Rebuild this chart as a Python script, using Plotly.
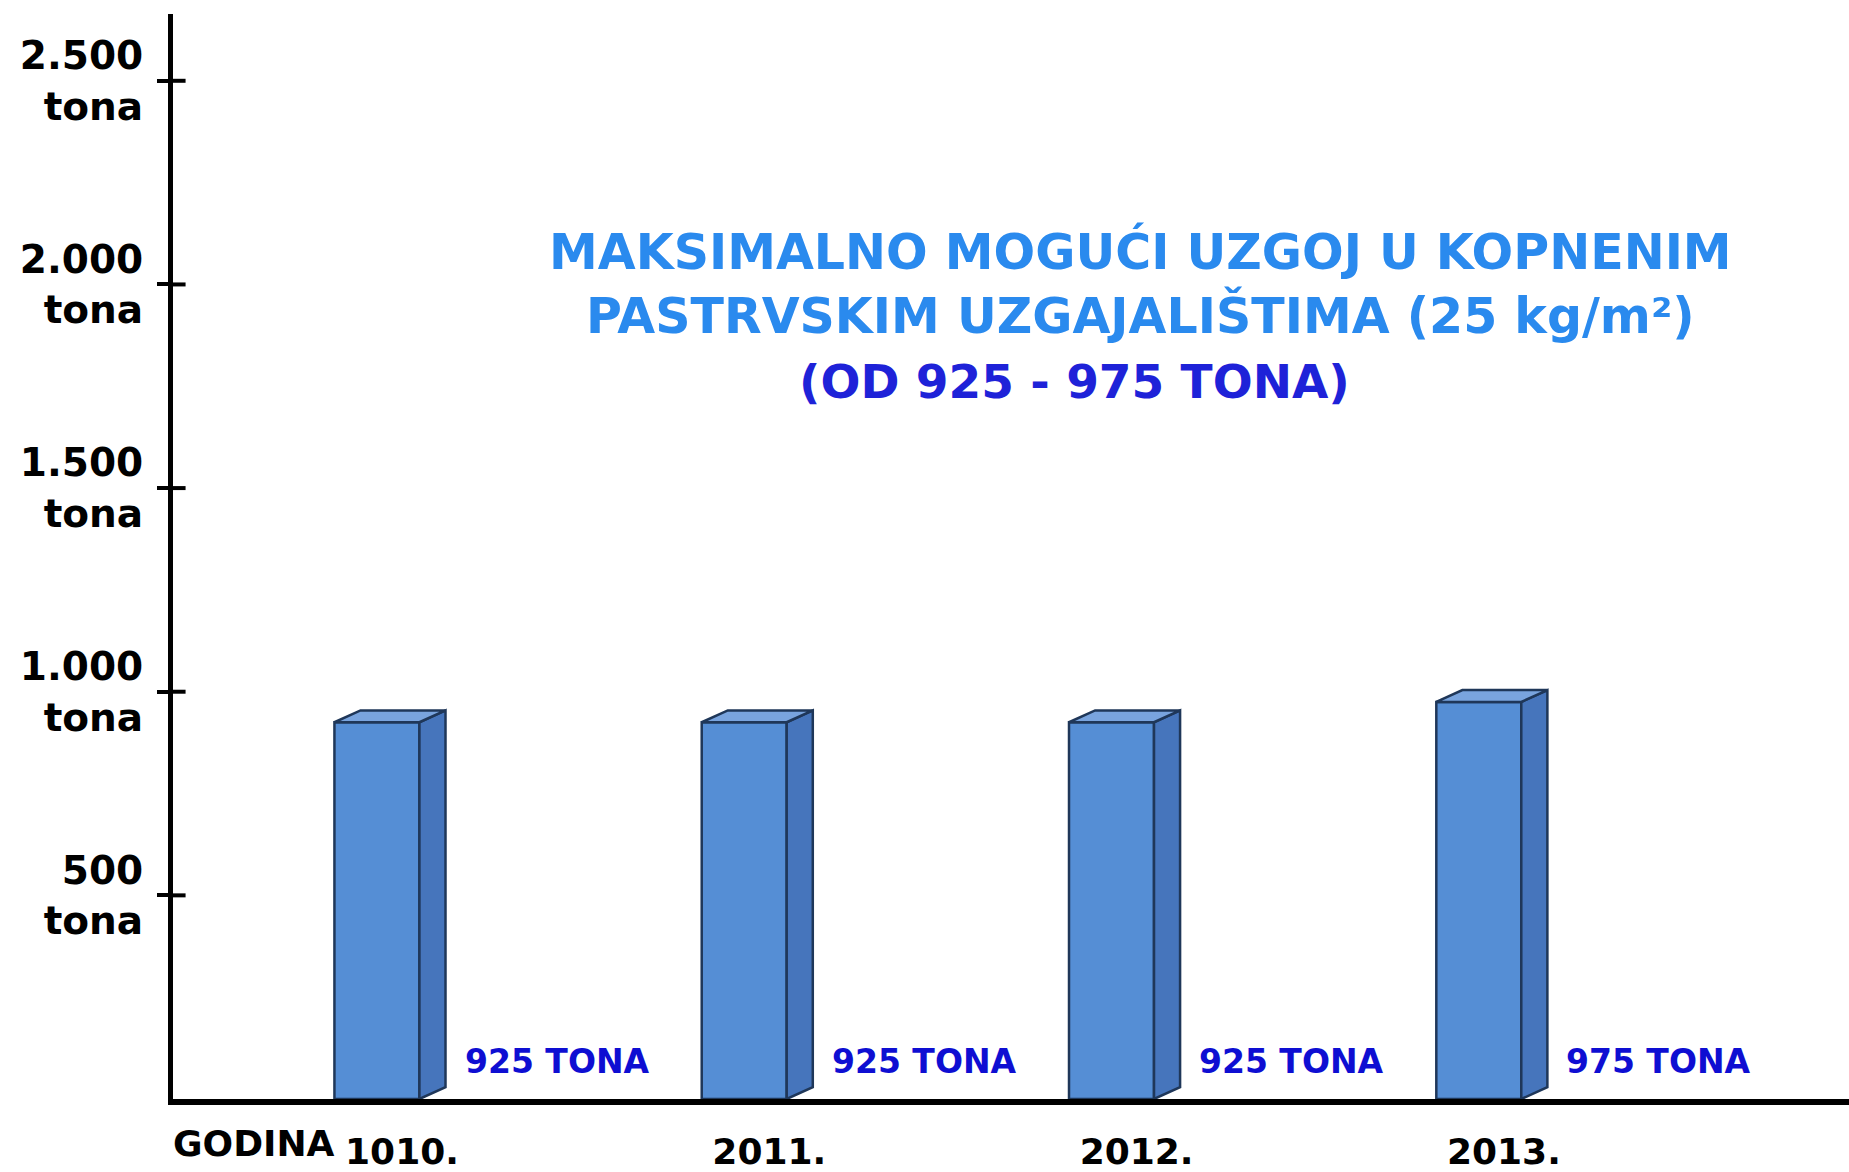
import plotly.graph_objects as go

# ---------------- data ----------------
x_title = "GODINA"
years = ["1010.", "2011.", "2012.", "2013."]
values = [925, 925, 925, 975]
ytick_vals = [500, 1000, 1500, 2000, 2500]
ytick_text = ["500<br>tona", "1.000<br>tona", "1.500<br>tona", "2.000<br>tona", "2.500<br>tona"]
title_lines = ["MAKSIMALNO MOGUĆI UZGOJ U KOPNENIM", "PASTRVSKIM UZGAJALIŠTIMA (25 kg/m²)"]
subtitle = "(OD 925 - 975 TONA)"
unit = "TONA"

# ---------------- style ----------------
FRONT = "#558ED5"
SIDE = "#4675BC"
TOP = "#79A4DE"
EDGE = "#1F3759"
BAR_W = 0.2314
DX = 0.071
DY = 29
BAR_OFFSET = -0.184
FONT = "DejaVu Sans"

x = list(range(len(years)))

fig = go.Figure()
fig.add_bar(x=x, y=values, width=BAR_W, offset=BAR_OFFSET,
            marker=dict(color=FRONT, line=dict(color=EDGE, width=2.5)),
            hoverinfo="skip")

sx, sy, tx, ty = [], [], [], []
for i, v in zip(x, values):
    xl = i + BAR_OFFSET
    xr = xl + BAR_W
    sx += [xr, xr + DX, xr + DX, xr, xr, None]
    sy += [0, DY, v + DY, v, 0, None]
    tx += [xl, xl + DX, xr + DX, xr, xl, None]
    ty += [v, v + DY, v + DY, v, v, None]

fig.add_scatter(x=sx, y=sy, mode="lines", fill="toself", fillcolor=SIDE,
                line=dict(color=EDGE, width=2.5), hoverinfo="skip")
fig.add_scatter(x=tx, y=ty, mode="lines", fill="toself", fillcolor=TOP,
                line=dict(color=EDGE, width=2.5), hoverinfo="skip")

for i, v in zip(x, values):
    fig.add_annotation(x=i + BAR_OFFSET + BAR_W + DX, y=92, xref="x", yref="y",
                       xanchor="left", yanchor="middle", xshift=17,
                       text=f"{v} {unit}", showarrow=False,
                       font=dict(family=FONT, size=33, color="#0E0ED2", weight="bold"))

# crossing part of the y ticks (inside the plot)
for v in ytick_vals:
    fig.add_shape(type="line", xref="x domain", yref="y", x0=0, x1=0.0075, y0=v, y1=v,
                  line=dict(color="black", width=4))

fig.add_annotation(x=0.5775, y=0.752, xref="paper", yref="paper",
                   xanchor="center", yanchor="middle", align="center",
                   text="<br>".join(title_lines), showarrow=False,
                   font=dict(family=FONT, size=49, color="#2A8AEE", weight="bold"))
fig.add_annotation(x=0.5376, y=0.661, xref="paper", yref="paper",
                   xanchor="center", yanchor="middle",
                   text=subtitle, showarrow=False,
                   font=dict(family=FONT, size=47, color="#1E22D8", weight="bold"))

# "GODINA" label left of the first year
fig.add_annotation(x=0.098, y=0, xref="paper", yref="paper",
                   xanchor="right", yanchor="middle", yshift=-44,
                   text=x_title, showarrow=False,
                   font=dict(family=FONT, size=36, color="black", weight="bold"))

fig.update_layout(
    width=1849, height=1172,
    showlegend=False,
    plot_bgcolor="white",
    paper_bgcolor="white",
    margin=dict(l=173, r=0, t=14, b=60),
    xaxis=dict(range=[-0.6235, 3.9396], tickvals=x, ticktext=years,
               showline=True, linecolor="black", linewidth=6,
               showgrid=False, zeroline=False, ticks="",
               ticklabelstandoff=16,
               tickfont=dict(family=FONT, size=36, color="black", weight="bold")),
    yaxis=dict(range=[0, 2664], tickvals=ytick_vals, ticktext=ytick_text,
               showline=True, linecolor="black", linewidth=5,
               showgrid=False, zeroline=False,
               ticks="outside", ticklen=11, tickwidth=4, tickcolor="black",
               ticklabelstandoff=6,
               tickfont=dict(family=FONT, size=39, color="black", weight="bold")),
)

page_css = (
    "var s='margin:0;padding:0;overflow:hidden;height:1172px;width:1849px';"
    "document.documentElement.style.cssText=s;document.body.style.cssText=s;"
)
fig.write_html("out.html", config={"displayModeBar": False}, post_script=page_css)
